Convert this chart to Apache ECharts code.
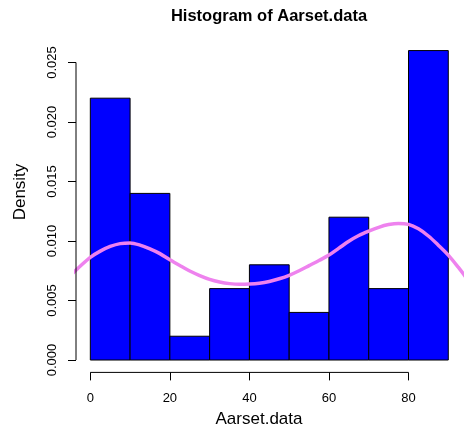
<!DOCTYPE html>
<html>
<head>
<meta charset="utf-8">
<script src="https://cdn.jsdelivr.net/npm/echarts@6/dist/echarts.min.js"></script>
<style>html,body{margin:0;padding:0;background:#fff}#c{width:464px;height:427px}</style>
</head>
<body>
<div id="c"></div>
<script>
// Histogram bins (start, end) and densities
const binStarts = [0, 10, 20, 30, 40, 50, 60, 70, 80];
const binEnds   = [10, 20, 30, 40, 50, 60, 70, 80, 90];
const densities = [0.022, 0.014, 0.002, 0.006, 0.008, 0.004, 0.012, 0.006, 0.026];
// Kernel density curve
const curveX = [-5, -2.5, 0, 2.5, 5, 7.5, 10, 12.5, 15, 17.5, 20, 22.5, 25, 27.5, 30, 32.5, 35, 37.5, 40, 42.5, 45, 47.5, 50, 52.5, 55, 57.5, 60, 62.5, 65, 67.5, 70, 72.5, 75, 77.5, 80, 82.5, 85, 87.5, 90, 92.5, 95];
const curveY = [0.0071, 0.0079, 0.00863, 0.00915, 0.00954, 0.00978, 0.00984, 0.00966, 0.00934, 0.00894, 0.00842, 0.00794, 0.00748, 0.0071, 0.00678, 0.00656, 0.00642, 0.00636, 0.00638, 0.00645, 0.0066, 0.00683, 0.00712, 0.0075, 0.00793, 0.00836, 0.00882, 0.0094, 0.00998, 0.01046, 0.01083, 0.01115, 0.01138, 0.01148, 0.0114, 0.01102, 0.01042, 0.00965, 0.00882, 0.0078, 0.0067];
const xTicks = [0, 20, 40, 60, 80];
const yTicks = [0, 0.005, 0.010, 0.015, 0.020, 0.025];
const xMin = -3.6, xMax = 93.6, yMin = -0.00104, yMax = 0.02704;

const chart = echarts.init(document.getElementById('c'));
const FONT = 'Liberation Sans, Arial, Helvetica, sans-serif';
const histData = binStarts.map((s, i) => [s, binEnds[i], densities[i]]);
chart.setOption({
  animation: false,
  backgroundColor: '#fff',
  grid: { left: 76, top: 38.2, width: 386.6, height: 334.2 },
  xAxis: {
    type: 'value', min: xMin, max: xMax,
    splitLine: { show: false },
    axisLine: { show: false, onZero: false },
    axisTick: { show: true, customValues: xTicks, length: 8, inside: false, lineStyle: { color: '#000', width: 1 } },
    axisLabel: { customValues: xTicks, margin: 20, fontSize: 13, color: '#000', fontFamily: FONT, formatter: v => String(v) }
  },
  yAxis: {
    type: 'value', min: yMin, max: yMax,
    splitLine: { show: false },
    axisLine: { show: false, onZero: false },
    axisTick: { show: true, customValues: yTicks, length: 8, inside: false, lineStyle: { color: '#000', width: 1 } },
    axisLabel: { customValues: yTicks, margin: 17, rotate: 90, fontSize: 13, color: '#000', fontFamily: FONT, formatter: v => v.toFixed(3) }
  },
  graphic: [
    { type: 'text', x: 269, y: 16, style: { text: 'Histogram of Aarset.data', font: 'bold 16.5px ' + FONT, fill: '#000', align: 'center', verticalAlign: 'middle' } },
    { type: 'text', x: 259, y: 419, style: { text: 'Aarset.data', font: '17px ' + FONT, fill: '#000', align: 'center', verticalAlign: 'middle' } },
    { type: 'text', x: 20, y: 192, rotation: Math.PI / 2, style: { text: 'Density', font: '17px ' + FONT, fill: '#000', align: 'center', verticalAlign: 'middle' } }
  ],
  series: [
    {
      type: 'custom',
      data: histData,
      renderItem: function (params, api) {
        const p1 = api.coord([api.value(0), api.value(2)]);
        const p2 = api.coord([api.value(1), 0]);
        return {
          type: 'rect',
          shape: { x: p1[0], y: p1[1], width: p2[0] - p1[0], height: p2[1] - p1[1] },
          style: { fill: '#0000FF', stroke: '#000', lineWidth: 1 }
        };
      },
      encode: { x: [0, 1], y: 2 }
    },
    {
      type: 'line', smooth: 0.3, symbol: 'none', clip: true,
      data: curveX.map((x, i) => [x, curveY[i]]),
      lineStyle: { color: '#EE82EE', width: 3.5 }
    },
    {
      type: 'line', symbol: 'none', clip: false, silent: true,
      data: [[xTicks[0], yMin], [xTicks[xTicks.length - 1], yMin]],
      lineStyle: { color: '#000', width: 1 }
    },
    {
      type: 'line', symbol: 'none', clip: false, silent: true,
      data: [[xMin, yTicks[0]], [xMin, yTicks[yTicks.length - 1]]],
      lineStyle: { color: '#000', width: 1 }
    }
  ]
});
</script>
</body>
</html>
